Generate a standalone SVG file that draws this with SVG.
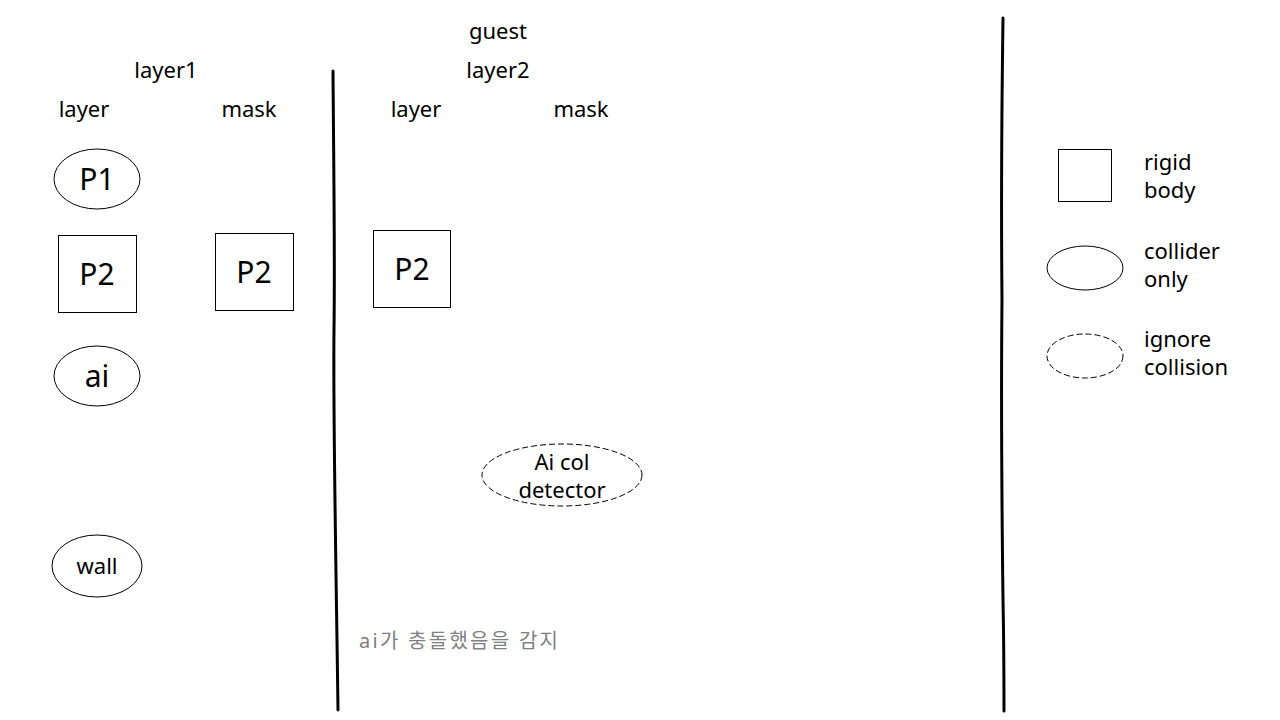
<svg xmlns="http://www.w3.org/2000/svg" width="1280" height="720" viewBox="0 0 1280 720">
<style>
text{font-family:"Noto Sans","Open Sans","Noto Sans CJK KR",sans-serif;fill:#000;}
.lbl{font-size:22px;text-anchor:middle;}
.big{font-size:30px;text-anchor:middle;}
.leg{font-size:22px;}
.shape{fill:#fff;stroke:#000;stroke-width:1;}
.dash{fill:#fff;stroke:#000;stroke-width:1;stroke-dasharray:6 3;}
.div{fill:none;stroke:#000;stroke-width:3;stroke-linecap:round;}
</style>
<rect width="1280" height="720" fill="#fff"/>
<g id="headers">
<text class="lbl" x="166" y="78">layer1</text>
<text class="lbl" x="84" y="117">layer</text>
<text class="lbl" x="249" y="117">mask</text>
<text class="lbl" x="498" y="39">guest</text>
<text class="lbl" x="498" y="78">layer2</text>
<text class="lbl" x="416" y="117">layer</text>
<text class="lbl" x="581" y="117">mask</text>
</g>
<g id="dividers">
<path class="div" d="M333,71 C334,200 335,260 334,330 C333,420 336,560 338,710"/>
<path class="div" d="M1003,18 C1002,90 1001,200 1002,300 C1001,400 1002,520 1003,600 C1004,650 1004,690 1004,711"/>
</g>
<g id="p1"><ellipse class="shape" cx="97" cy="179" rx="43" ry="30"/><text class="big" x="97" y="190">P1</text></g>
<g id="p2-layer1"><rect class="shape" x="58.5" y="235.5" width="78" height="77"/><text class="big" x="97" y="285">P2</text></g>
<g id="p2-mask1"><rect class="shape" x="215.5" y="233.5" width="78" height="77"/><text class="big" x="254" y="283">P2</text></g>
<g id="ai"><ellipse class="shape" cx="97" cy="376" rx="43" ry="30"/><text class="big" x="97" y="387">ai</text></g>
<g id="wall"><ellipse class="shape" cx="97" cy="566" rx="45" ry="31"/><text class="lbl" x="97" y="574">wall</text></g>
<g id="p2-layer2"><rect class="shape" x="373.5" y="230.5" width="77" height="77"/><text class="big" x="412" y="280">P2</text></g>
<g id="ai-col-detector"><ellipse class="dash" cx="562" cy="475" rx="80" ry="31"/><text class="lbl" x="562" y="470">Ai col</text><text class="lbl" x="562" y="498">detector</text></g>
<g id="note"><text x="359" y="648" textLength="199" lengthAdjust="spacing" style="font-size:20px;fill:#7f7f7f;font-family:'Noto Sans','Noto Sans CJK KR',sans-serif;">ai가 충돌했음을 감지</text></g>
<g id="legend-rigid"><rect class="shape" x="1058.5" y="149.5" width="53" height="52"/><text class="leg" x="1144" y="170">rigid</text><text class="leg" x="1144" y="198">body</text></g>
<g id="legend-collider"><ellipse class="shape" cx="1085" cy="268" rx="38" ry="22"/><text class="leg" x="1144" y="259">collider</text><text class="leg" x="1144" y="287">only</text></g>
<g id="legend-ignore"><ellipse class="dash" cx="1085" cy="356" rx="38" ry="22"/><text class="leg" x="1144" y="347">ignore</text><text class="leg" x="1144" y="375">collision</text></g>
<g id="connectors"></g>
</svg>
